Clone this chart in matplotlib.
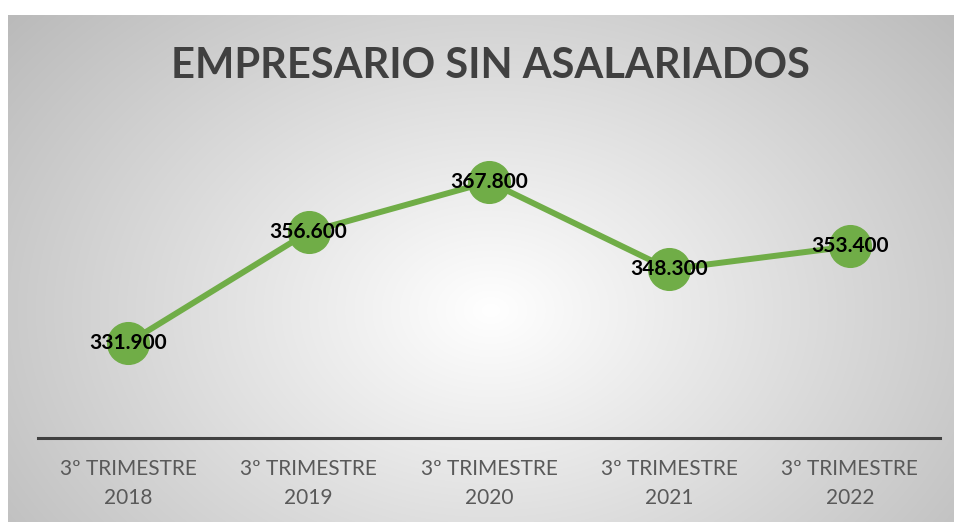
import numpy as np
import matplotlib.pyplot as plt

# data
categories = ['3º TRIMESTRE\n2018', '3º TRIMESTRE\n2019', '3º TRIMESTRE\n2020',
              '3º TRIMESTRE\n2021', '3º TRIMESTRE\n2022']
values = [331.9, 356.6, 367.8, 348.3, 353.4]
value_labels = ['331.900', '356.600', '367.800', '348.300', '353.400']
title = 'EMPRESARIO SIN ASALARIADOS'

W, H = 955, 522
fig = plt.figure(figsize=(W / 100, H / 100), dpi=100)
fig.patch.set_facecolor('white')

# radial grey background of the chart area
x0, x1, y0, y1 = 8, 953, 15, 522
bg = fig.add_axes([x0 / W, 0, (x1 - x0) / W, (y1 - y0) / H])
bg.set_axis_off()
gx, gy = np.meshgrid(np.arange(x0, x1), np.arange(y0, y1))
d = np.sqrt(((gx - 490) / 600) ** 2 + ((gy - 310) / 440) ** 2)
shade = np.clip(255 - 66 * d, 0, 255) / 255
img = np.dstack([shade, shade, shade])
bg.imshow(img, aspect='auto', interpolation='bilinear')

# main axes
ax = fig.add_axes([38 / W, (H - 438) / H, 902 / W, (438 - 127) / H])
ax.patch.set_alpha(0)
xs = np.arange(len(values))
ax.plot(xs, values, color='#70AD47', linewidth=4.3, marker='o',
        markersize=30, markerfacecolor='#70AD47', markeredgecolor='#70AD47',
        solid_capstyle='round', zorder=3)
for x, v, lab in zip(xs, values, value_labels):
    ax.text(x, v, lab, ha='center', va='center', fontsize=15, fontweight='bold',
            family='Lato', color='black', zorder=4)

ax.set_xlim(-0.5, 4.5)
ax.set_ylim(310.7, 380)
ax.set_yticks([])
ax.set_xticks(xs)
ax.set_xticklabels(categories, fontsize=15, color='#595959', family='Lato',
                   linespacing=1.55)
ax.tick_params(axis='x', length=0, pad=15)
for s in ['top', 'right', 'left']:
    ax.spines[s].set_visible(False)
ax.spines['bottom'].set_color('#404040')
ax.spines['bottom'].set_linewidth(2.2)

fig.text(490 / W, (H - 66) / H, title, ha='center', va='center', fontsize=30,
         fontweight='bold', family='Lato', color='#404040')

fig.savefig('out.png', dpi=100)
